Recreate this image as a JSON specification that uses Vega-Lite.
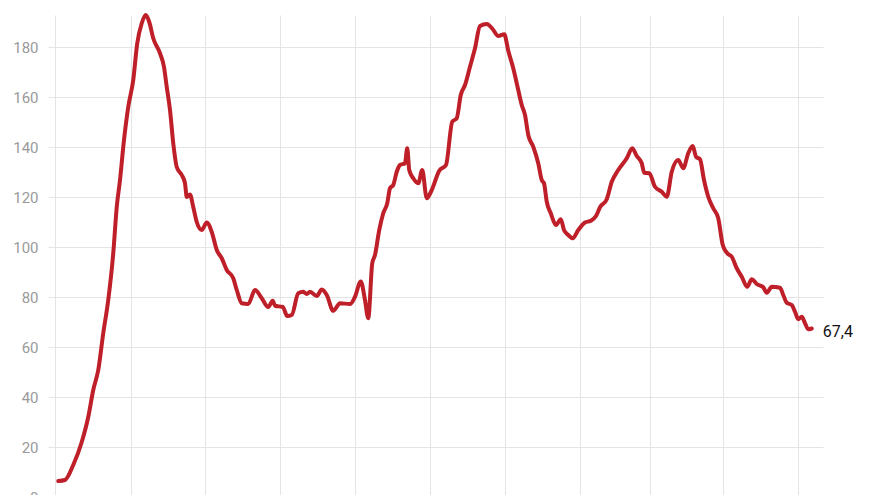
{
  "$schema": "https://vega.github.io/schema/vega-lite/v6.json",
  "width": 775,
  "height": 482,
  "autosize": {"type": "none"},
  "padding": {"left": 48, "top": 15, "right": 57, "bottom": 0},
  "background": "white",
  "data": {
    "values": [
      {"day": 1.3, "v": 6.4}, {"day": 4, "v": 6.8}, {"day": 7.3, "v": 12.8}, {"day": 10.7, "v": 22},
      {"day": 13.3, "v": 32}, {"day": 15.3, "v": 42.8}, {"day": 17.3, "v": 50.8}, {"day": 19.3, "v": 65.5},
      {"day": 21.3, "v": 78.8}, {"day": 23.3, "v": 97.5}, {"day": 24.7, "v": 116}, {"day": 26, "v": 126.8},
      {"day": 27.6, "v": 142.8}, {"day": 29.3, "v": 156}, {"day": 31.3, "v": 166.8}, {"day": 32.9, "v": 181.5},
      {"day": 34.7, "v": 189.5}, {"day": 36.3, "v": 192.8}, {"day": 37.7, "v": 190}, {"day": 39.3, "v": 183.5},
      {"day": 42, "v": 177.5}, {"day": 43.6, "v": 172}, {"day": 44.7, "v": 164}, {"day": 46, "v": 154.8},
      {"day": 47.3, "v": 141.5}, {"day": 48.7, "v": 132}, {"day": 50.7, "v": 128.8}, {"day": 52, "v": 125.5},
      {"day": 52.7, "v": 120}, {"day": 54, "v": 121}, {"day": 55.3, "v": 116}, {"day": 56.7, "v": 110},
      {"day": 58.7, "v": 106.8}, {"day": 60.7, "v": 109.8}, {"day": 62.7, "v": 106}, {"day": 64.7, "v": 98.8},
      {"day": 66.7, "v": 95.5}, {"day": 68.7, "v": 90.8}, {"day": 71.3, "v": 87.5}, {"day": 72.7, "v": 82.8},
      {"day": 74.7, "v": 77.5}, {"day": 77.3, "v": 77.2}, {"day": 80, "v": 82.8}, {"day": 82.7, "v": 79.5},
      {"day": 85.3, "v": 76}, {"day": 87.1, "v": 78.5}, {"day": 88, "v": 76.5}, {"day": 91.1, "v": 76},
      {"day": 92.9, "v": 72.4}, {"day": 94.7, "v": 72.8}, {"day": 97.3, "v": 81.5}, {"day": 99.3, "v": 82.1},
      {"day": 100.7, "v": 81.2}, {"day": 102, "v": 82.1}, {"day": 104.7, "v": 80.4}, {"day": 106.7, "v": 83},
      {"day": 108.7, "v": 80.8}, {"day": 111.3, "v": 74.5}, {"day": 114, "v": 77.5}, {"day": 118, "v": 77.2},
      {"day": 120, "v": 80.1}, {"day": 122.3, "v": 86.2}, {"day": 124, "v": 78.8}, {"day": 125.3, "v": 71.5},
      {"day": 126.9, "v": 93.5}, {"day": 128, "v": 96.8}, {"day": 129.7, "v": 106.8}, {"day": 131.3, "v": 113.5},
      {"day": 132.9, "v": 117.5}, {"day": 134, "v": 123.5}, {"day": 135.3, "v": 124.8}, {"day": 136.7, "v": 130.1},
      {"day": 138, "v": 132.8}, {"day": 140, "v": 133.5}, {"day": 140.9, "v": 139.5}, {"day": 141.7, "v": 130.8},
      {"day": 143.3, "v": 127.5}, {"day": 145.3, "v": 125.5}, {"day": 146.9, "v": 130.8}, {"day": 148.7, "v": 119.5},
      {"day": 150.7, "v": 122.8}, {"day": 153.7, "v": 130.5}, {"day": 156.4, "v": 132.8}, {"day": 158.9, "v": 150.1},
      {"day": 160.7, "v": 151.5}, {"day": 162.3, "v": 160.8}, {"day": 164, "v": 164.8}, {"day": 166, "v": 172.1},
      {"day": 168, "v": 179.5}, {"day": 170, "v": 188.4}, {"day": 172.7, "v": 189.2}, {"day": 175.1, "v": 187.1},
      {"day": 177.3, "v": 184.4}, {"day": 179.7, "v": 185.1}, {"day": 181.3, "v": 178.5}, {"day": 183.3, "v": 171.5},
      {"day": 185.3, "v": 162.8}, {"day": 186.7, "v": 156.8}, {"day": 188, "v": 152.8}, {"day": 189.3, "v": 144.8},
      {"day": 191.3, "v": 140.1}, {"day": 193.3, "v": 133.5}, {"day": 194.7, "v": 126.8}, {"day": 195.6, "v": 125.5},
      {"day": 196.7, "v": 118.1}, {"day": 198.3, "v": 113.5}, {"day": 200.4, "v": 108.8}, {"day": 202.3, "v": 111.1},
      {"day": 203.6, "v": 106.8}, {"day": 205.3, "v": 104.8}, {"day": 207.1, "v": 103.5}, {"day": 209.3, "v": 106.8},
      {"day": 212, "v": 109.8}, {"day": 214.3, "v": 110.5}, {"day": 216.4, "v": 112.4}, {"day": 218, "v": 115.9},
      {"day": 220.7, "v": 119.1}, {"day": 222.7, "v": 126.1}, {"day": 225.3, "v": 130.8}, {"day": 228.7, "v": 135.5},
      {"day": 230.9, "v": 139.5}, {"day": 232.7, "v": 136.4}, {"day": 234.7, "v": 133.5}, {"day": 235.7, "v": 129.7},
      {"day": 237.7, "v": 129.5}, {"day": 240, "v": 124.1}, {"day": 242.7, "v": 122.1}, {"day": 244.7, "v": 120.1},
      {"day": 246.7, "v": 130.1}, {"day": 249.3, "v": 134.8}, {"day": 251.3, "v": 131.5}, {"day": 253.3, "v": 137.5},
      {"day": 255.1, "v": 140.4}, {"day": 256.4, "v": 136.1}, {"day": 258, "v": 135.1}, {"day": 259.6, "v": 126.8},
      {"day": 261.3, "v": 120.1}, {"day": 263.3, "v": 115.5}, {"day": 265.3, "v": 111.5}, {"day": 267.1, "v": 100.8},
      {"day": 268.9, "v": 97.5}, {"day": 270.7, "v": 96.1}, {"day": 272.7, "v": 91.5}, {"day": 274.7, "v": 88.1},
      {"day": 276.9, "v": 84.1}, {"day": 278.7, "v": 87.1}, {"day": 280.7, "v": 85.2}, {"day": 283.3, "v": 83.9},
      {"day": 284.7, "v": 81.7}, {"day": 286.7, "v": 84.1}, {"day": 290, "v": 83.7}, {"day": 291.3, "v": 80.8},
      {"day": 292.7, "v": 77.7}, {"day": 294.7, "v": 76.8}, {"day": 296, "v": 74.1}, {"day": 297.3, "v": 71.1},
      {"day": 298.7, "v": 72.1}, {"day": 300, "v": 69.5}, {"day": 301.3, "v": 67.1}, {"day": 302.7, "v": 67.4}
    ]
  },
  "encoding": {
    "x": {
      "field": "day",
      "type": "quantitative",
      "title": null,
      "scale": {"domain": [-2.8, 307.2], "nice": false, "zero": false},
      "axis": {
        "values": [0, 30.4, 60, 90, 120, 150, 180, 210, 238, 267.2, 297.2],
        "labels": false,
        "ticks": false,
        "domain": false,
        "grid": true,
        "gridColor": "#e4e4e4",
        "gridWidth": 1
      }
    },
    "y": {
      "field": "v",
      "type": "quantitative",
      "title": null,
      "scale": {"domain": [0, 192.8], "nice": false},
      "axis": {
        "values": [0, 20, 40, 60, 80, 100, 120, 140, 160, 180],
        "ticks": false,
        "tickSize": 0,
        "domain": false,
        "labelPadding": 10,
        "labelFont": "Roboto",
        "labelFontSize": 15,
        "labelColor": "#9a9a9a",
        "gridColor": "#e4e4e4",
        "gridWidth": 1
      }
    }
  },
  "layer": [
    {
      "mark": {
        "type": "line",
        "color": "#be1f29",
        "strokeWidth": 4,
        "interpolate": "monotone",
        "strokeCap": "round",
        "strokeJoin": "round"
      }
    },
    {
      "transform": [{"filter": "datum.day > 302"}],
      "mark": {
        "type": "text",
        "align": "left",
        "baseline": "middle",
        "dx": 11,
        "dy": 3,
        "font": "Roboto",
        "fontSize": 16,
        "color": "#111111"
      },
      "encoding": {
        "text": {"field": "v", "type": "quantitative", "format": ".1f"}
      }
    }
  ],
  "config": {
    "view": {"stroke": null},
    "locale": {
      "number": {"decimal": ",", "thousands": ".", "grouping": [3], "currency": ["", " €"]}
    }
  }
}
